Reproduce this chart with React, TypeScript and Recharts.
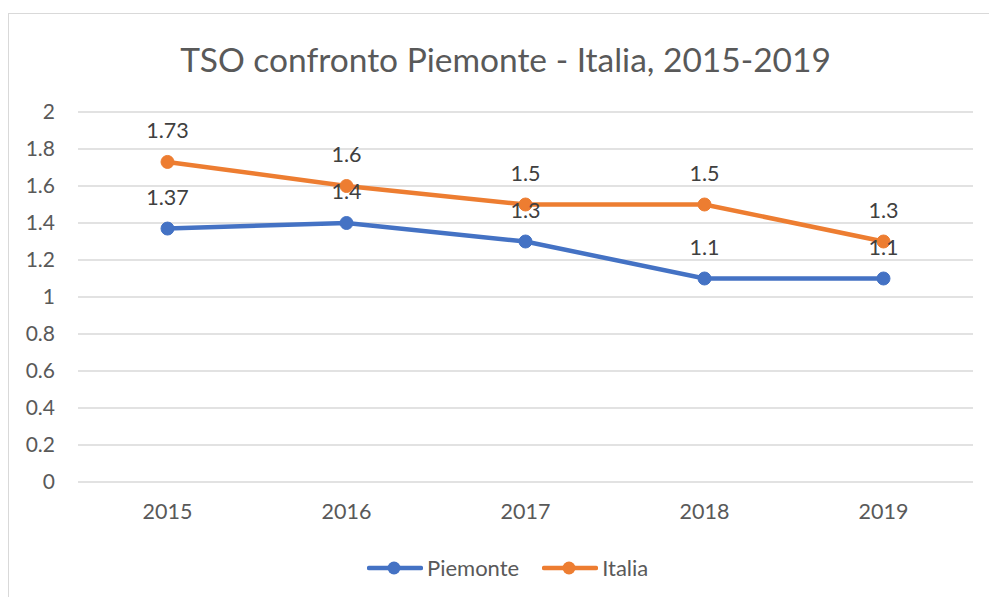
import { LineChart, Line, XAxis, YAxis, CartesianGrid, LabelList } from "recharts";

const years = ["2015", "2016", "2017", "2018", "2019"];
const piemonte = [1.37, 1.4, 1.3, 1.1, 1.1];
const italia = [1.73, 1.6, 1.5, 1.5, 1.3];
const yTicks = [0, 0.2, 0.4, 0.6, 0.8, 1, 1.2, 1.4, 1.6, 1.8, 2];

const series = [
  { key: "piemonte", name: "Piemonte", color: "#4472C4" },
  { key: "italia", name: "Italia", color: "#ED7D31" },
];

const data = years.map((y, i) => ({
  year: y,
  piemonte: piemonte[i],
  italia: italia[i],
}));

const font = "Lato, 'Open Sans', sans-serif";

export default function App() {
  return (
    <div
      style={{
        position: "fixed",
        left: 0,
        top: 0,
        width: 989,
        height: 597,
        overflow: "hidden",
        background: "#fff",
        fontFamily: font,
      }}
    >
      <div
        style={{
          position: "absolute",
          left: 8,
          top: 13,
          width: 1100,
          height: 700,
          border: "1.5px solid #d9d9d9",
        }}
      />
      <div
        style={{
          position: "absolute",
          left: 0,
          top: 43,
          width: 1011,
          textAlign: "center",
          fontSize: 33.5,
          lineHeight: "33px",
          color: "#595959",
        }}
      >
        TSO confronto Piemonte - Italia, 2015-2019
      </div>

      <div style={{ position: "absolute", left: 8, top: 8 }}>
        <LineChart
          width={981}
          height={589}
          data={data}
          margin={{ top: 104, right: 16, bottom: 75, left: 0 }}
        >
          <CartesianGrid vertical={false} stroke="#d9d9d9" strokeWidth={1.5} />
          <XAxis
            dataKey="year"
            axisLine={false}
            tickLine={false}
            tickSize={0}
            tickMargin={22}
            height={40}
            padding={{ left: 89.5, right: 89.5 }}
            tick={{ fill: "#595959", fontSize: 21.5, fontFamily: font }}
          />
          <YAxis
            domain={[0, 2]}
            ticks={yTicks}
            axisLine={false}
            tickLine={false}
            tickSize={0}
            tickMargin={23}
            width={70}
            tickFormatter={(v: number) => String(Number(v.toFixed(1)))}
            tick={{ fill: "#595959", fontSize: 21, fontFamily: font }}
          />
          {series.map((s) => (
            <Line
              key={s.key}
              dataKey={s.key}
              name={s.name}
              stroke={s.color}
              strokeWidth={4.5}
              dot={{ r: 6.5, fill: s.color, stroke: s.color, strokeWidth: 1 }}
              isAnimationActive={false}
            >
              <LabelList
                dataKey={s.key}
                position="top"
                offset={24}
                fill="#404040"
                fontSize={21.5}
                fontFamily={font}
              />
            </Line>
          ))}
        </LineChart>
      </div>

      <div
        style={{
          position: "absolute",
          left: 367,
          top: 554,
          display: "flex",
          alignItems: "center",
          fontSize: 22,
          color: "#595959",
        }}
      >
        {series.map((s) => (
          <div key={s.key} style={{ display: "flex", alignItems: "center", marginRight: 23 }}>
            <svg width={56} height={26} style={{ marginRight: 4 }}>
              <line x1={2} y1={13} x2={54} y2={13} stroke={s.color} strokeWidth={4.5} strokeLinecap="round" />
              <circle cx={27} cy={13} r={6.5} fill={s.color} />
            </svg>
            <span>{s.name}</span>
          </div>
        ))}
      </div>
    </div>
  );
}
